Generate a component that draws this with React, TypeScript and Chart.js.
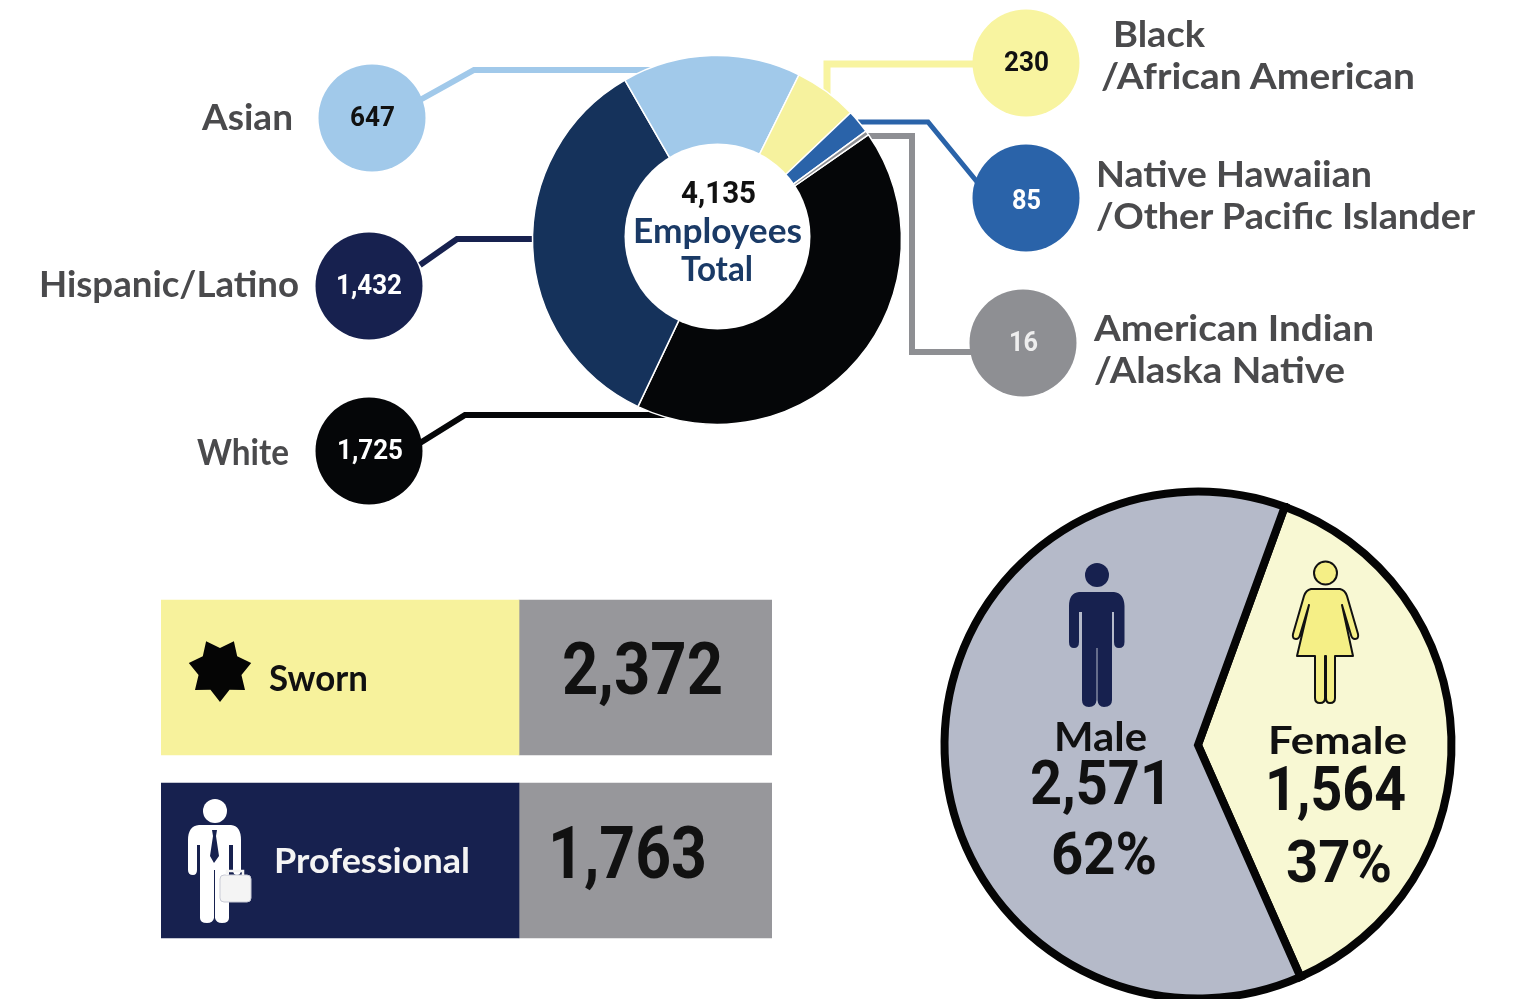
import React, { useEffect, useRef } from "react";
import { Chart, registerables } from "chart.js";

Chart.register(...registerables);

// ---- data ----
const ethnicityLabels = ["White", "Hispanic/Latino", "Asian", "Black/African American", "Native Hawaiian/Other Pacific Islander", "American Indian/Alaska Native"];
const ethnicityValues = [1725, 1432, 647, 230, 85, 16];
const ethnicityColors = ["#050608", "#15325b", "#a1c9ea", "#f6f29e", "#2a63a9", "#8e8f93"];
const calloutColors = ["#050608", "#17214f", "#a1c9ea", "#f8f4a0", "#2a63a9", "#8e8f93"];
const genderLabels = ["Female", "Male"];
const genderValues = [1564, 2571];
const genderColors = ["#f8f8d3", "#b5bac9"];
const staffLabels = ["Sworn", "Professional"];
const staffValues = [2372, 1763];
const staffPanelColors = ["#f7f29c", "#17214f"];
const valuePanelColor = "#97979b";

// ---- layout (page pixels) ----
const bubbleCenters = [[369, 451], [369, 286], [372, 118], [1026, 63], [1026, 198], [1023, 343]];
const connectors = [
  [[420, 443], [465, 415], [668, 415]],
  [[420, 265], [457, 239], [535, 239]],
  [[420, 100], [474, 70], [655, 70]],
  [[1026, 64], [827, 64], [827, 105]],
  [[858, 122], [928, 122], [978, 183]],
  [[868, 136], [912, 136], [912, 352], [975, 352]],
];
const connectorWidths = [6, 6, 6, 7, 5, 6];
const labelPanelWidth = 358;
const valuePanelWidth = 253;

const LABEL = "Lato, 'Noto Sans', sans-serif";
const NUM = "Roboto, 'Liberation Sans', sans-serif";
const fmt = (n: number) => n.toLocaleString("en-US");

type TProps = { x: number; y: number; w: number; s: number; c?: string; f?: string; children: any };
function T({ x, y, w, s, c = "#4a4a4c", f = LABEL, children }: TProps) {
  return (
    <text x={x} y={f === LABEL ? y - 2 : y} fontFamily={f} fontWeight={700} fontSize={s} fill={c} textLength={w} lengthAdjust="spacingAndGlyphs" dominantBaseline="central">
      {children}
    </text>
  );
}

const starPoints = Array.from({ length: 14 }, (_, i) => {
  const a = (Math.PI / 7) * i;
  const r = i % 2 === 0 ? 32 : 22;
  return `${220 + r * Math.sin(a)},${670 + r * Math.cos(a)}`;
}).join(" ");

function useChart(make: (c: HTMLCanvasElement) => Chart) {
  const ref = useRef<HTMLCanvasElement>(null);
  useEffect(() => {
    const chart = make(ref.current!);
    return () => chart.destroy();
  }, []);
  return ref;
}

const base = {
  responsive: false,
  animation: false as const,
  devicePixelRatio: 1,
  layout: { padding: 0, autoPadding: false },
  plugins: { legend: { display: false }, tooltip: { enabled: false } },
  events: [] as any[],
};

export default function App() {
  const calloutRef = useChart((c) =>
    new Chart(c, {
      type: "bubble",
      data: {
        datasets: [
          ...connectors.map((pts, i) => ({
            type: "line" as const,
            data: pts.map(([x, y]) => ({ x, y })),
            borderColor: calloutColors[i],
            borderWidth: connectorWidths[i],
            pointRadius: 0,
            tension: 0,
            fill: false,
            order: 2,
            borderJoinStyle: "miter" as const,
          })),
          {
            type: "bubble" as const,
            data: bubbleCenters.map(([x, y]) => ({ x, y, r: 53.5 })),
            backgroundColor: calloutColors,
            borderWidth: 0,
            order: 1,
          },
        ] as any,
      },
      options: {
        ...base,
        scales: {
          x: { type: "linear", min: 0, max: 1522, display: false },
          y: { type: "linear", min: 0, max: 999, reverse: true, display: false },
        },
      } as any,
    })
  );

  const donutRef = useChart((c) =>
    new Chart(c, {
      type: "doughnut",
      data: {
        labels: ethnicityLabels,
        datasets: [{ data: ethnicityValues, backgroundColor: ethnicityColors, borderColor: "#ffffff", borderWidth: 1.5, hoverOffset: 0 }],
      },
      options: { ...base, rotation: 55.2, radius: 184.5, cutout: 88 } as any,
    })
  );

  const pieRef = useChart((c) =>
    new Chart(c, {
      type: "pie",
      data: {
        labels: genderLabels,
        datasets: [{ data: genderValues, backgroundColor: genderColors, borderColor: "#050505", borderWidth: 8, borderJoinStyle: "miter", hoverOffset: 0 }],
      },
      options: { ...base, rotation: 20, radius: 253.5 } as any,
    })
  );

  const barRef = useChart((c) =>
    new Chart(c, {
      type: "bar",
      data: {
        labels: staffLabels,
        datasets: [
          { data: staffLabels.map(() => labelPanelWidth), backgroundColor: staffPanelColors, barThickness: 155, borderWidth: 0 },
          { data: staffLabels.map(() => valuePanelWidth), backgroundColor: valuePanelColor, barThickness: 155, borderWidth: 0 },
        ],
      },
      options: {
        ...base,
        indexAxis: "y",
        scales: {
          x: { stacked: true, min: 0, max: labelPanelWidth + valuePanelWidth, display: false },
          y: { stacked: true, display: false },
        },
      } as any,
    })
  );

  const abs = (left: number, top: number, z: number): React.CSSProperties => ({ position: "absolute", left, top, zIndex: z });

  useEffect(() => {
    document.body.style.margin = "0";
    document.body.style.background = "#ffffff";
  }, []);

  return (
    <div style={{ position: "fixed", left: 0, top: 0, width: 1522, height: 999, overflow: "hidden", background: "#fff" }}>
      <canvas ref={calloutRef} width={1522} height={999} style={abs(0, 0, 1)} />
      <canvas ref={donutRef} width={400} height={400} style={abs(517, 40, 2)} />
      <canvas ref={pieRef} width={540} height={540} style={abs(928, 475, 2)} />
      <canvas ref={barRef} width={611} height={366} style={abs(161, 586, 2)} />
      <svg width={1522} height={999} style={abs(0, 0, 3)}>
        <circle cx={717.5} cy={236.5} r={93} fill="#ffffff" />

        <T x={202} y={118} w={91} s={36}>{"Asian"}</T>
        <T x={39} y={285} w={260} s={36}>{"Hispanic/Latino"}</T>
        <T x={197} y={453} w={92} s={36}>{"White"}</T>
        <T x={1113} y={35} w={92} s={36}>{"Black"}</T>
        <T x={1101} y={77} w={314} s={36}>{"/African American"}</T>
        <T x={1096} y={175} w={276} s={36}>{"Native Hawaiian"}</T>
        <T x={1096} y={217} w={379} s={36}>{"/Other Pacific Islander"}</T>
        <T x={1094} y={329} w={280} s={36}>{"American Indian"}</T>
        <T x={1094} y={371} w={251} s={36}>{"/Alaska Native"}</T>

        <T x={350} y={116} w={45} s={28} c="#111" f={NUM}>{fmt(ethnicityValues[2])}</T>
        <T x={336} y={285} w={66} s={27} c="#fff" f={NUM}>{fmt(ethnicityValues[1])}</T>
        <T x={337} y={450} w={66} s={27} c="#fff" f={NUM}>{fmt(ethnicityValues[0])}</T>
        <T x={1004} y={61} w={45} s={28} c="#111" f={NUM}>{fmt(ethnicityValues[3])}</T>
        <T x={1012} y={199} w={29} s={28} c="#fff" f={NUM}>{fmt(ethnicityValues[4])}</T>
        <T x={1009} y={341} w={29} s={28} c="#eee" f={NUM}>{fmt(ethnicityValues[5])}</T>

        <T x={681} y={192} w={75} s={32} c="#111" f={NUM}>{fmt(4135)}</T>
        <T x={633} y={231} w={169} s={34} c="#1a3a66">{"Employees"}</T>
        <T x={681} y={269} w={72} s={34} c="#1a3a66">{"Total"}</T>

        <polygon points={starPoints} fill="#050505" />
        <T x={269} y={679} w={99} s={36} c="#111">{staffLabels[0]}</T>
        <T x={274} y={861} w={196} s={34} c="#f4f4f4">{staffLabels[1]}</T>
        <T x={562} y={669} w={161} s={72} c="#111" f={NUM}>{fmt(staffValues[0])}</T>
        <T x={548} y={853} w={159} s={72} c="#111" f={NUM}>{fmt(staffValues[1])}</T>

        {/* businessman */}
        <g fill="#ffffff">
          <circle cx={215} cy={811} r={12} />
          <path d="M199 825 H231 Q241 826 241 840 V870 Q241 875 237 875 Q233 875 233 870 V845 H229 V918 Q229 923 222 923 Q216 923 215 918 V870 H214 V918 Q213 923 207 923 Q200 923 200 918 V845 H197 V870 Q197 875 193 875 Q188 875 188 870 V840 Q188 826 199 825 Z" />
        </g>
        <path d="M212 830 H217 L216 836 L219 856 L214 863 L210 856 L213 836 Z" fill="#17214f" />
        <rect x={220} y={875} width={31} height={27} rx={4} fill="#f4f4f4" stroke="#c9cbd6" strokeWidth={1} />
        <path d="M227 875 V871 H243 V875" fill="none" stroke="#f4f4f4" strokeWidth={2.5} />

        {/* male */}
        <g fill="#17214f">
          <circle cx={1097} cy={575} r={12} />
          <path d="M1079 592 H1114 Q1124 593 1124.500 606 V642 Q1124.500 648 1119 648 Q1114 648 1114 642 V612 H1112 V700 Q1112 707 1104 707 Q1098 707 1097.500 700 V648 H1096.500 V700 Q1096 707 1089 707 Q1082 707 1082 700 V612 H1079 V642 Q1079 648 1074 648 Q1069 648 1069 642 V606 Q1069 593 1079 592 Z" />
        </g>

        {/* female */}
        <g fill="#f5ef86" stroke="#111" strokeWidth={2}>
          <circle cx={1325.500} cy={573} r={11.500} />
          <path d="M1311 589 H1340 Q1345 590 1347 596 L1358 634 Q1359 639 1355 639 Q1352 639 1351 635 L1342 605 L1353 656 H1335 V698 Q1335 703 1330 703 Q1326 703 1326 698 V656 H1325 V698 Q1325 703 1320 703 Q1315 703 1315 698 V656 H1297 L1309 605 L1300 635 Q1299 639 1296 639 Q1292 639 1293 634 L1304 596 Q1306 590 1311 589 Z" strokeLinejoin="round" />
        </g>

        <T x={1054} y={738} w={93} s={40} c="#111">{genderLabels[1]}</T>
        <T x={1030} y={782} w={142} s={62} c="#111" f={NUM}>{fmt(genderValues[1])}</T>
        <T x={1051} y={853} w={106} s={60} c="#111" f={NUM}>{"62%"}</T>
        <T x={1268} y={741} w={139} s={38} c="#111">{genderLabels[0]}</T>
        <T x={1265} y={788} w={141} s={62} c="#111" f={NUM}>{fmt(genderValues[0])}</T>
        <T x={1286} y={861} w={106} s={60} c="#111" f={NUM}>{"37%"}</T>
      </svg>
    </div>
  );
}
